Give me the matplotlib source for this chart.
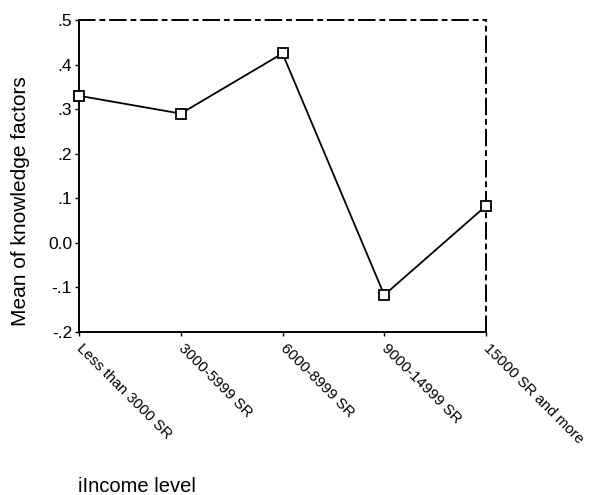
import matplotlib.pyplot as plt
from matplotlib.ticker import FixedLocator

plt.rcParams['font.family'] = ['Liberation Sans', 'DejaVu Sans']

categories = ['Less than 3000 SR', '3000-5999 SR', '6000-8999 SR',
              '9000-14999 SR', '15000 SR and more']
means = [0.33, 0.29, 0.425, -0.117, 0.083]
yticks = [-0.2, -0.1, 0.0, 0.1, 0.2, 0.3, 0.4, 0.5]
ytick_labels = ['-.2', '-.1', '0.0', '.1', '.2', '.3', '.4', '.5']

fig = plt.figure(figsize=(5.9, 4.95), dpi=100)
ax = fig.add_axes([79 / 590, 1 - 332 / 495, (486 - 79) / 590, (332 - 20) / 495])

x = list(range(len(categories)))
ax.plot(x, means, color='black', linewidth=1.3, marker='s', markersize=6.5,
        markerfacecolor='white', markeredgecolor='black', markeredgewidth=1.3,
        clip_on=False, zorder=3)

ax.set_xlim(0, len(categories) - 1)
ax.set_ylim(-0.2, 0.5)
ax.yaxis.set_major_locator(FixedLocator(yticks))
ax.set_yticklabels(ytick_labels)
ax.set_xticks(x)
ax.set_xticklabels(categories, rotation=-45, ha='left', va='center',
                   rotation_mode='anchor', fontsize=10.8)
ax.tick_params(axis='y', labelsize=12.5, length=3, width=1, pad=2)
ax.tick_params(axis='x', length=3, width=1, pad=7)

for side in ['left', 'bottom']:
    ax.spines[side].set_linewidth(1.4)
for side in ['top', 'right']:
    ax.spines[side].set_linewidth(1.4)
    ax.spines[side].set_linestyle((0, (8, 3, 2, 3)))

fig.text(21 / 590, 1 - 201 / 495, 'Mean of knowledge factors', fontsize=15,
         rotation=90, ha='center', va='center')
fig.text(78 / 590, 1 - 486 / 495, 'iIncome level', fontsize=14.5,
         ha='left', va='center')

fig.savefig('out.png', dpi=100)
